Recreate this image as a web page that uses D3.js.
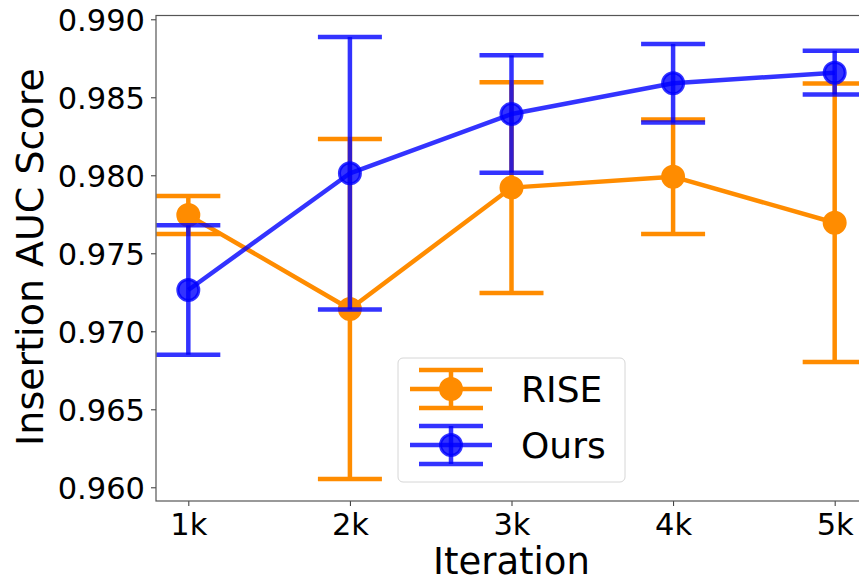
<!DOCTYPE html>
<html>
<head>
<meta charset="utf-8">
<script src="https://cdn.jsdelivr.net/npm/d3@7/dist/d3.min.js"></script>
<style>
  html, body { margin: 0; padding: 0; background: #fff; }
  svg { display: block; font-family: "DejaVu Sans", sans-serif; }
</style>
</head>
<body>
<svg id="chart" width="859" height="583"></svg>
<script>
// ---- data ----
const categories = [1, 2, 3, 4, 5];
const tickLabels = ["1k", "2k", "3k", "4k", "5k"];
const riseMean = [0.97745, 0.97143, 0.97921, 0.97991, 0.97696];
const riseErr  = [0.00122, 0.01090, 0.00676, 0.00367, 0.00893];
const oursMean = [0.97265, 0.98013, 0.98393, 0.98590, 0.98658];
const oursErr  = [0.00415, 0.00873, 0.00376, 0.00252, 0.00140];
const yTicks = [0.960, 0.965, 0.970, 0.975, 0.980, 0.985, 0.990];
const seriesNames = ["RISE", "Ours"];

// ---- layout ----
const plotL = 156, plotR = 867, plotT = 15.5, plotB = 501;
const svg = d3.select("#chart");

const x = d3.scaleLinear().domain([0.8, 5.2]).range([plotL, plotR]);
const y = d3.scaleLinear().domain([0.959122, 0.990244]).range([plotB, plotT]);

const orange = "#ff8c00";
const blue = "#0000ff";

// ---- series ----
function drawSeries(mean, err, color, alpha) {
  const g = svg.append("g");
  const capHalf = 32;
  categories.forEach((c, i) => {
    const cx = x(c);
    const y1 = y(mean[i] - err[i]), y2 = y(mean[i] + err[i]);
    g.append("line").attr("x1", cx).attr("x2", cx).attr("y1", y1).attr("y2", y2)
      .attr("stroke", color).attr("stroke-opacity", alpha).attr("stroke-width", 4.5);
    [y1, y2].forEach(yy => {
      g.append("line").attr("x1", cx - capHalf).attr("x2", cx + capHalf).attr("y1", yy).attr("y2", yy)
        .attr("stroke", color).attr("stroke-opacity", alpha).attr("stroke-width", 4.5);
    });
  });
  const line = d3.line().x((d, i) => x(categories[i])).y(d => y(d));
  g.append("path").datum(mean).attr("d", line).attr("fill", "none")
    .attr("stroke", color).attr("stroke-opacity", alpha).attr("stroke-width", 4.5)
    .attr("stroke-linejoin", "round");
  categories.forEach((c, i) => {
    g.append("circle").attr("cx", x(c)).attr("cy", y(mean[i])).attr("r", 10.5)
      .attr("fill", color).attr("fill-opacity", alpha)
      .attr("stroke", color).attr("stroke-opacity", alpha).attr("stroke-width", 3);
  });
}

// ---- axes ----
const axisColor = "#555";
const yAxis = svg.append("g").attr("transform", `translate(${plotL},0)`)
  .call(d3.axisLeft(y).tickValues(yTicks).tickFormat(d3.format(".3f")).tickSize(5).tickPadding(6));
const xAxis = svg.append("g").attr("transform", `translate(0,${plotB})`)
  .call(d3.axisBottom(x).tickValues(categories).tickFormat((d, i) => tickLabels[i]).tickSize(5).tickPadding(6));
[yAxis, xAxis].forEach(a => {
  a.select(".domain").remove();
  a.selectAll(".tick line").attr("stroke", "#333").attr("stroke-width", 1);
  a.selectAll(".tick text").attr("fill", "#000").style("font-size", "30.5px")
    .style("font-family", "'DejaVu Sans', sans-serif");
});
yAxis.selectAll(".tick text").attr("dy", "0.36em");
xAxis.selectAll(".tick text").attr("dy", "0.76em");

drawSeries(riseMean, riseErr, orange, 1);
drawSeries(oursMean, oursErr, blue, 0.8);

svg.append("rect").attr("x", plotL).attr("y", plotT).attr("width", plotR - plotL).attr("height", plotB - plotT)
  .attr("fill", "none").attr("stroke", axisColor).attr("stroke-width", 1.2);

svg.append("text").attr("x", (plotL + plotR) / 2).attr("y", 574).attr("text-anchor", "middle")
  .style("font-size", "37px").text("Iteration");
svg.append("text").attr("transform", `translate(43,257) rotate(-90)`)
  .attr("text-anchor", "middle").style("font-size", "38px").text("Insertion AUC Score");

// ---- legend ----
const lg = svg.append("g");
lg.append("rect").attr("x", 398).attr("y", 358).attr("width", 227).attr("height", 124).attr("rx", 5)
  .attr("fill", "#fff").attr("fill-opacity", 0.8).attr("stroke", "#d6d6d6").attr("stroke-width", 1);
const legendItems = [
  { name: seriesNames[0], color: orange, alpha: 1, cy: 389 },
  { name: seriesNames[1], color: blue, alpha: 0.8, cy: 445 }
];
legendItems.forEach(it => {
  const hx = 451;
  const add = (x1, y1, x2, y2) => lg.append("line").attr("x1", x1).attr("y1", y1).attr("x2", x2).attr("y2", y2)
    .attr("stroke", it.color).attr("stroke-opacity", it.alpha).attr("stroke-width", 4.5);
  add(hx, it.cy - 19, hx, it.cy + 19);
  add(hx - 32, it.cy - 19, hx + 32, it.cy - 19);
  add(hx - 32, it.cy + 19, hx + 32, it.cy + 19);
  add(410, it.cy, 492, it.cy);
  lg.append("circle").attr("cx", hx).attr("cy", it.cy).attr("r", 10.5)
    .attr("fill", it.color).attr("fill-opacity", it.alpha)
    .attr("stroke", it.color).attr("stroke-opacity", it.alpha).attr("stroke-width", 3);
  lg.append("text").attr("x", 521).attr("y", it.cy + 13).style("font-size", "36px").text(it.name);
});
</script>
</body>
</html>
